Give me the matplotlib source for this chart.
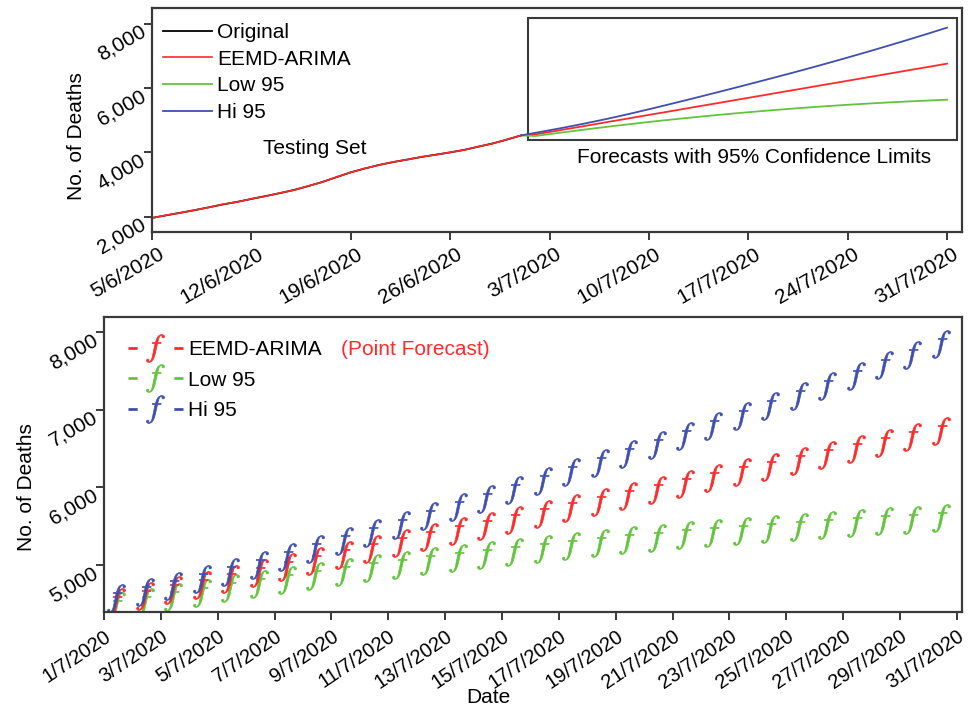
#!/usr/bin/env python3

import numpy as np
import pandas as pd
import matplotlib
matplotlib.use('Agg')
import matplotlib.pyplot as plt
import matplotlib.dates as mdates
from matplotlib.lines import Line2D
from matplotlib.patches import Rectangle
from matplotlib.transforms import ScaledTranslation

plt.rcParams['font.family'] = ['Liberation Sans', 'DejaVu Sans']
plt.rcParams['mathtext.fontset'] = 'stix'

# Datos: serie original / ajuste (5/6 - 1/7) y pronosticos (2/7 - 31/7)
orig_dates = pd.date_range('2020-06-05', '2020-07-01', freq='D')
original = [1960, 2040, 2120, 2200, 2290, 2380, 2460, 2550, 2640, 2730,
            2830, 2950, 3080, 3230, 3380, 3500, 3610, 3700, 3780, 3860,
            3930, 4000, 4080, 4180, 4280, 4400, 4530]
fitted = [1955, 2045, 2115, 2205, 2285, 2385, 2455, 2555, 2635, 2735,
          2825, 2955, 3075, 3235, 3375, 3505, 3605, 3705, 3775, 3865,
          3925, 4005, 4075, 4185, 4275, 4405, 4530]

fc_dates = pd.date_range('2020-07-02', '2020-07-31', freq='D')
point_fc = [4560, 4637, 4712, 4787, 4864, 4941, 5016, 5092, 5169, 5244,
            5320, 5397, 5472, 5548, 5625, 5700, 5776, 5853, 5928, 6004,
            6081, 6156, 6232, 6309, 6384, 6460, 6537, 6612, 6688, 6765]
low95 = [4510, 4570, 4628, 4685, 4741, 4795, 4847, 4898, 4948, 4996,
         5042, 5087, 5131, 5173, 5213, 5252, 5290, 5326, 5360, 5393,
         5425, 5455, 5483, 5510, 5536, 5560, 5582, 5603, 5623, 5641]
hi95 = [4610, 4690, 4772, 4858, 4948, 5040, 5138, 5240, 5345, 5452,
        5560, 5670, 5781, 5893, 6006, 6120, 6235, 6351, 6468, 6587,
        6708, 6831, 6956, 7083, 7212, 7343, 7476, 7611, 7748, 7887]

top_xticks = pd.date_range('2020-06-05', '2020-07-31', freq='7D')
top_yticks = [2000, 4000, 6000, 8000]
bottom_xticks = pd.date_range('2020-07-01', '2020-07-31', freq='2D')
bottom_yticks = [5000, 6000, 7000, 8000]

RED = '#ff2a2a'
GREEN = '#62c43c'
BLUE = '#3f4fb0'
SPINE = '#3a3a3a'
FS = 15


def date_label(d):
    return f"{d.day}/{d.month}/{d.year}"


def style_axes(fig, ax, xticks, yticks, rot, xfs, xshift, xpad):
    for s in ax.spines.values():
        s.set_color(SPINE)
        s.set_linewidth(1.6)
    ax.tick_params(direction='out', length=6, width=1.4, color=SPINE, pad=3)
    ax.tick_params(axis='x', pad=xpad)
    ax.set_xticks(xticks)
    ax.set_xticklabels([date_label(d) for d in xticks], rotation=rot, ha='right',
                       va='top', rotation_mode='anchor', fontsize=xfs)
    ax.set_yticks(yticks)
    ax.set_yticklabels([f"{v:,}" for v in yticks], rotation=30, ha='right',
                       va='top', rotation_mode='anchor', fontsize=FS)
    dx = ScaledTranslation(xshift, 0.0, fig.dpi_scale_trans)
    for lab in ax.get_xticklabels():
        lab.set_transform(lab.get_transform() + dx)
    dy = ScaledTranslation(0.0, 0.02, fig.dpi_scale_trans)
    for lab in ax.get_yticklabels():
        lab.set_transform(lab.get_transform() + dy)


fig = plt.figure(figsize=(9.69, 7.08), dpi=100)

#################################
# Panel superior
#################################
ax1 = fig.add_axes([0.1569, 0.6723, 0.836, 0.316])
ax1.plot(orig_dates, original, color='black', lw=1.3, label='Original')
ax1.plot(orig_dates, fitted, color=RED, lw=1.2, label='EEMD-ARIMA')

fx = np.concatenate([orig_dates[-1:].values, fc_dates.values])
ax1.plot(fx, [fitted[-1]] + point_fc, color=RED, lw=1.3)
ax1.plot(fx, [fitted[-1]] + low95, color=GREEN, lw=1.3, label='Low 95')
ax1.plot(fx, [fitted[-1]] + hi95, color=BLUE, lw=1.3, label='Hi 95')

ax1.set_xlim(mdates.date2num(orig_dates[0]), mdates.date2num(fc_dates[-1]) + 1.06)
ax1.set_ylim(1520, 8490)
style_axes(fig, ax1, top_xticks, top_yticks, 30, FS, 0.055, 3)
ax1.set_ylabel('No. of Deaths', fontsize=FS)
ax1.yaxis.set_label_coords(-0.081, 0.43)

ax1.add_patch(Rectangle((0.464, 0.411), 0.530, 0.547, transform=ax1.transAxes,
                        fill=False, ec=SPINE, lw=1.5))
ax1.text(0.743, 0.335, 'Forecasts with 95% Confidence Limits', transform=ax1.transAxes,
         ha='center', va='center', fontsize=FS)
ax1.text(0.201, 0.375, 'Testing Set', transform=ax1.transAxes,
         ha='center', va='center', fontsize=FS)

ax1.legend(loc='upper left', bbox_to_anchor=(0.0136, 0.935), frameon=False,
           fontsize=FS, handlelength=2.35, handletextpad=0.25, labelspacing=0.37,
           borderpad=0, borderaxespad=0)

#################################
# Panel inferior
#################################
ax2 = fig.add_axes([0.1073, 0.1360, 0.8854, 0.4167])
shift = ScaledTranslation(-0.16, -0.03, fig.dpi_scale_trans)
for vals, col in [(low95, GREEN), (point_fc, RED), (hi95, BLUE)]:
    ax2.plot(fc_dates, vals, ls='none', marker='$f$', ms=20, mew=0.5, color=col,
             transform=ax2.transData + shift)

ax2.set_xlim(mdates.date2num(bottom_xticks[0]), mdates.date2num(fc_dates[-1]) + 0.18)
ax2.set_ylim(4400, 8200)
style_axes(fig, ax2, bottom_xticks, bottom_yticks, 34, 14.5, 0.0, 5)
ax2.set_ylabel('No. of Deaths', fontsize=FS)
ax2.yaxis.set_label_coords(-0.079, 0.421)
ax2.set_xlabel('Date', fontsize=FS)
ax2.xaxis.set_label_coords(0.4476, -0.258)

dash = (0, (3.3, 13.2))
handles = [Line2D([], [], color=c, ls=dash, lw=2, marker='$f$', ms=20, mew=0.5)
           for c in (RED, GREEN, BLUE)]
leg = ax2.legend(handles, ['EEMD-ARIMA', 'Low 95', 'Hi 95'], loc='upper left',
                 bbox_to_anchor=(0.028, 0.92), frameon=False, fontsize=FS,
                 handlelength=2.64, handletextpad=0.25, labelspacing=0.55,
                 borderpad=0, borderaxespad=0, numpoints=1)
ax2.annotate('(Point Forecast)', xy=(1, 0), xycoords=leg.get_texts()[0],
             xytext=(14, 0), textcoords='offset points', ha='left', va='bottom',
             color=RED, fontsize=FS, zorder=10)

fig.savefig('out.png', dpi=100)
plt.close(fig)
